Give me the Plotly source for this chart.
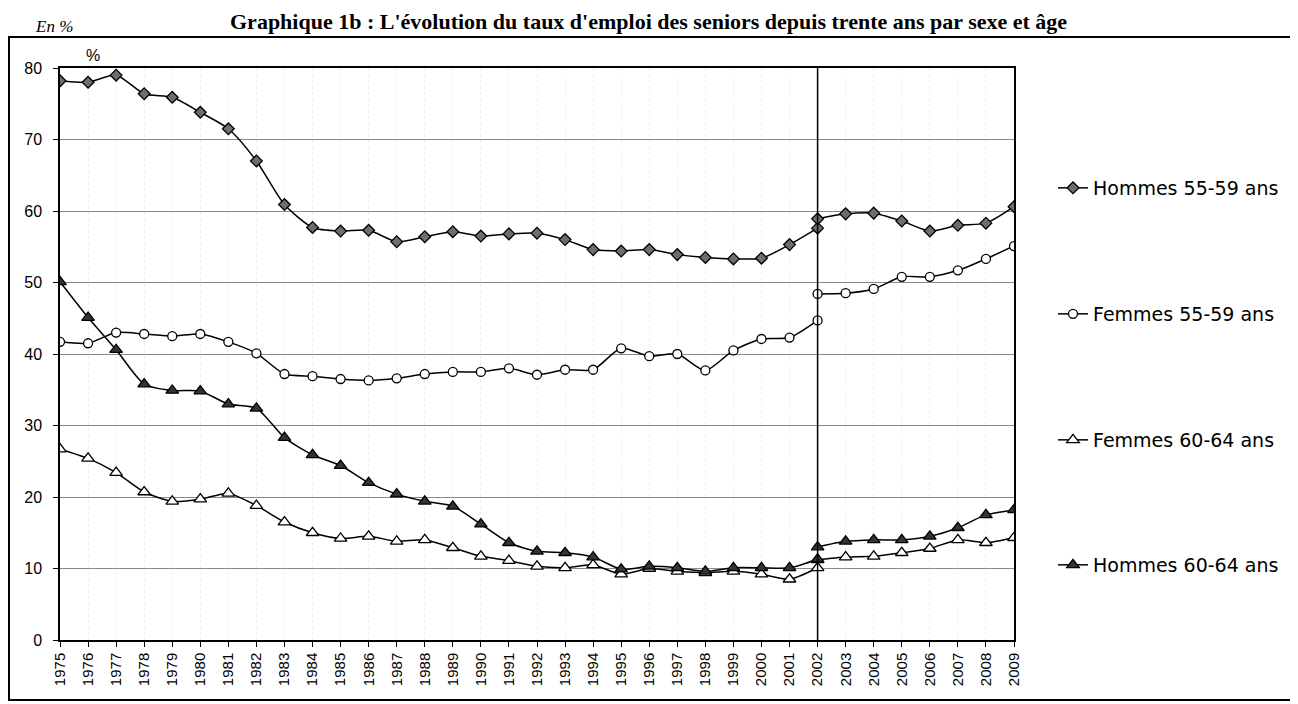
import plotly.graph_objects as go

# ---- data ----
years_old = list(range(1975, 2003))   # ancienne série 1975-2002
years_new = list(range(2002, 2010))   # nouvelle série 2002-2009
tick_years = list(range(1975, 2010))

h5559_old = [78.2, 78.0, 79.0, 76.4, 75.9, 73.8, 71.5, 67.0, 60.9, 57.7, 57.2, 57.3, 55.7, 56.4,
             57.1, 56.5, 56.8, 56.9, 56.0, 54.6, 54.4, 54.6, 53.9, 53.5, 53.3, 53.4, 55.3, 57.6]
h5559_new = [58.9, 59.6, 59.7, 58.6, 57.2, 58.0, 58.3, 60.6]

f5559_old = [41.7, 41.5, 43.0, 42.8, 42.5, 42.8, 41.7, 40.1, 37.2, 36.9, 36.5, 36.3, 36.6, 37.2,
             37.5, 37.5, 38.0, 37.1, 37.8, 37.8, 40.8, 39.7, 40.0, 37.7, 40.5, 42.1, 42.3, 44.7]
f5559_new = [48.4, 48.5, 49.1, 50.8, 50.8, 51.7, 53.3, 55.1]

f6064_old = [26.7, 25.4, 23.4, 20.7, 19.4, 19.7, 20.5, 18.8, 16.5, 15.0, 14.2, 14.5, 13.8, 14.0,
             12.9, 11.7, 11.1, 10.3, 10.1, 10.5, 9.2, 10.0, 9.6, 9.4, 9.6, 9.2, 8.5, 10.1]
f6064_new = [11.2, 11.6, 11.7, 12.2, 12.8, 14.0, 13.6, 14.3]

h6064_old = [50.1, 45.1, 40.6, 35.8, 34.9, 34.8, 33.0, 32.4, 28.3, 25.9, 24.4, 22.0, 20.4, 19.4,
             18.7, 16.2, 13.6, 12.4, 12.2, 11.6, 9.9, 10.3, 10.1, 9.6, 10.1, 10.1, 10.1, 11.3]
h6064_new = [13.0, 13.8, 14.0, 14.0, 14.5, 15.7, 17.5, 18.2]

series = [
    ("Hommes 55-59 ans", h5559_old, h5559_new, "diamond", "#6e6e6e", 9),
    ("Femmes 55-59 ans", f5559_old, f5559_new, "circle", "white", 9),
    ("Femmes 60-64 ans", f6064_old, f6064_new, "triangle-up", "white", 11),
    ("Hommes 60-64 ans", h6064_old, h6064_new, "triangle-up", "#333333", 11),
]
legend_y_px = [188, 314, 440, 565]

# page offset of the figure (body margin)
O = 8
W, H = 1298 - O, 704 - O
L, R, T, B = 60 - O, 1014 - O, 68 - O, 640 - O

def px_x(p):  # page pixel -> paper x
    return (p - O - L) / (R - L)

def px_y(p):  # page pixel -> paper y
    return (B - (p - O)) / (B - T)

fig = go.Figure()
for i, (name, old, new, sym, fill, size) in enumerate(series):
    x = years_old + [None] + years_new
    y = old + [None] + new
    fig.add_trace(go.Scatter(
        x=x, y=y, name=name, mode="lines+markers",
        connectgaps=False,
        line=dict(color="black", width=1.5, shape="spline", smoothing=0.7),
        marker=dict(symbol=sym, size=size, color=fill, line=dict(color="black", width=1.3)),
        legend="legend" if i == 0 else f"legend{i+1}",
    ))

legend_common = dict(
    font=dict(family="DejaVu Sans", size=19, color="black"),
    bgcolor="rgba(0,0,0,0)", xanchor="left", yanchor="middle",
    itemwidth=30, x=px_x(1053),
)
legends = {}
for i, yp in enumerate(legend_y_px):
    key = "legend" if i == 0 else f"legend{i+1}"
    legends[key] = dict(legend_common, y=px_y(yp))

fig.update_layout(
    width=W, height=H,
    margin=dict(l=L, r=W - R, t=T, b=H - B),
    paper_bgcolor="white", plot_bgcolor="white",
    showlegend=True,
    font=dict(family="Liberation Sans", color="black"),
    xaxis=dict(
        range=[1975, 2009], tickmode="array", tickvals=tick_years,
        ticktext=[str(v) for v in tick_years], tickangle=-90,
        tickfont=dict(family="Liberation Sans", size=15, color="black"),
        ticks="outside", ticklen=5, tickcolor="black",
        showline=True, linecolor="black", linewidth=1.5, mirror=True,
        showgrid=True, gridcolor="#eeeeee", gridwidth=1, griddash="dot",
        zeroline=False,
    ),
    yaxis=dict(
        range=[0, 80], tickmode="array", tickvals=list(range(0, 81, 10)),
        tickfont=dict(family="Liberation Sans", size=16, color="black"),
        ticks="outside", ticklen=5, tickcolor="black", ticklabelstandoff=8,
        showline=True, linecolor="black", linewidth=1.5, mirror=True,
        showgrid=True, gridcolor="#8a8a8a", gridwidth=1.2,
        zeroline=False,
    ),
    **legends,
)

# break in series (2002)
fig.add_shape(type="line", xref="x", yref="y", x0=2002, x1=2002, y0=0, y1=80,
              line=dict(color="black", width=1.5))
# outer frame
fig.add_shape(type="rect", xref="paper", yref="paper",
              x0=px_x(9), x1=px_x(1310), y0=px_y(700), y1=px_y(37),
              line=dict(color="black", width=2), layer="below")

fig.add_annotation(text="Graphique 1b : L'évolution du taux d'emploi des seniors depuis trente ans par sexe et âge",
                   xref="paper", yref="paper", x=px_x(648), y=px_y(21), xanchor="center", yanchor="middle",
                   showarrow=False, font=dict(family="Liberation Serif", size=22, color="black", weight="bold"))
fig.add_annotation(text="<i>En %</i>", xref="paper", yref="paper", x=px_x(33), y=px_y(26),
                   xanchor="left", yanchor="middle", showarrow=False,
                   font=dict(family="Liberation Serif", size=17, color="black"))
fig.add_annotation(text="%", xref="paper", yref="paper", x=px_x(93), y=px_y(56),
                   xanchor="center", yanchor="middle", showarrow=False,
                   font=dict(family="Liberation Sans", size=16, color="black"))

fig.write_html("out.html")
